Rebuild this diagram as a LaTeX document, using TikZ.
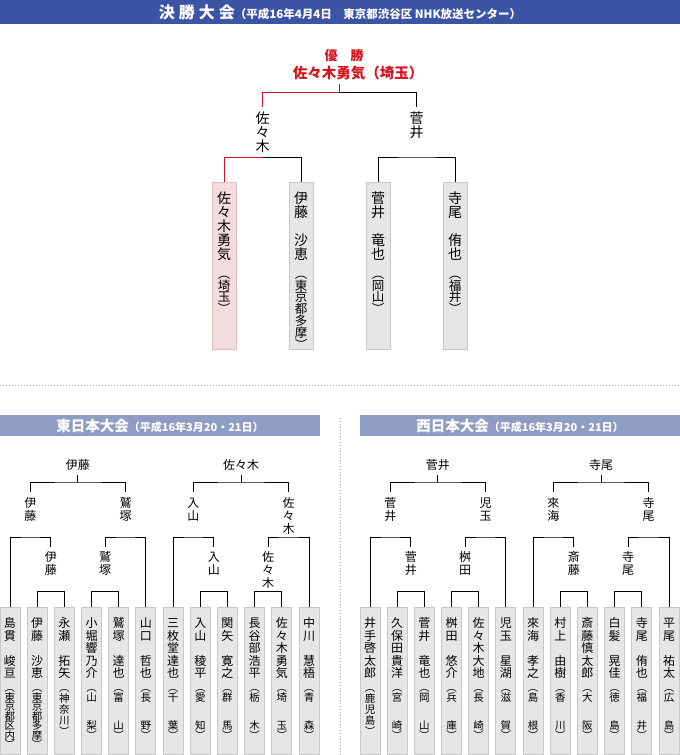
\documentclass[tikz,border=0pt]{standalone}
\usepackage{fontspec}
\setmainfont{Noto Sans CJK JP}
\usetikzlibrary{positioning,calc}

\definecolor{titleblue}{RGB}{59,84,163}
\definecolor{headblue}{RGB}{143,157,196}
\definecolor{boxfill}{RGB}{230,230,230}
\definecolor{boxline}{RGB}{200,200,200}
\definecolor{winfill}{RGB}{245,220,220}
\definecolor{winline}{RGB}{225,190,190}
\definecolor{winred}{RGB}{213,20,32}
\definecolor{dotgray}{RGB}{165,165,165}

% one glyph per line, top to bottom: [style]{name}{x}{first baseline}{pitch}{glyphs}
\newcommand{\vchars}[6][]{%
  \foreach \ch [count=\ci] in {#6}
    \node[glyph, #1] (#2-\ci) at (#3, {#4+(\ci-1)*#5}) {\ch};
}

% a player of the qualifying rounds: [pitch of prefecture]{name}{x}{player}{prefecture}
\newcommand{\qbox}[5][9.5]{%
  \node[qcard] (#2) at (#3, 680.5) {};
  \vchars[qname]{#2n}{#3}{627.6}{12.5}{#4}
  \vchars[qpref]{#2p}{#3}{691.5}{#1}{︵,#5,︶}
}

% one half of a qualifying block (six players)
\newcommand{\qhalf}[8]{%
  \pgfmathsetmacro\qxl{#3}
  \pgfmathsetmacro\qxA{\qxl+0.75*27.18}
  \pgfmathsetmacro\qxa{\qxl+1.5*27.18}
  \pgfmathsetmacro\qxb{\qxl+3.5*27.18}
  \pgfmathsetmacro\qxB{\qxl+4.25*27.18}
  \pgfmathsetmacro\qxc{\qxl+2.5*27.18}
  \pgfmathtruncatemacro\bii{#2+1}
  \pgfmathtruncatemacro\biii{#2+2}
  \pgfmathtruncatemacro\biv{#2+3}
  \pgfmathtruncatemacro\bv{#2+4}
  \pgfmathtruncatemacro\bvi{#2+5}
  % first round
  \draw[tie] (#1\bii.north) -- ++(0,-15) -| (#1\biii.north);
  \draw[tie] (#1\biv.north) -- ++(0,-15) -| (#1\bv.north);
  % second round
  \coordinate (#1#2ia) at (\qxa, 547);
  \coordinate (#1#2ib) at (\qxb, 547);
  \coordinate (#1#2sa) at (\qxA, 537);
  \coordinate (#1#2sb) at (\qxB, 537);
  \draw[tie] (#1#2.north) |- (#1#2sa) -| (#1#2ia);
  \draw[tie] (#1#2ib) |- (#1#2sb) -| (#1\bvi.north);
  % block final
  \coordinate (#1#2ta) at (\qxA, 492);
  \coordinate (#1#2tb) at (\qxB, 492);
  \coordinate (#1#2t) at (\qxc, 482);
  \draw[tie] (#1#2ta) |- (#1#2t) -| (#1#2tb);
  \draw[tie] (#1#2t) -- ++(0,-7);
  \node[glyph, qlab] (#1#2w) at (\qxc, 469.6) {#4};
  \vchars[qlab]{#1#2la}{\qxA}{507.6}{13}{#5}
  \vchars[qlab]{#1#2lia}{\qxa}{561.6}{13}{#6}
  \vchars[qlab]{#1#2lb}{\qxB}{507.6}{13}{#7}
  \vchars[qlab]{#1#2lib}{\qxb}{561.6}{13}{#8}
}

\begin{document}
\begin{tikzpicture}[
  x=1pt, y=-1pt,
  glyph/.style={inner sep=0pt, anchor=base},
  qname/.style={font=\fontsize{12}{12}\selectfont},
  qpref/.style={font=\fontsize{10.5}{10.5}\selectfont},
  qlab/.style={font=\fontsize{12}{12}\selectfont},
  fname/.style={font=\fontsize{14}{14}\selectfont},
  fpref/.style={font=\fontsize{12.5}{12.5}\selectfont},
  flab/.style={font=\fontsize{14}{14}\selectfont},
  qcard/.style={draw=boxline, fill=boxfill, line width=1pt, minimum width=20, minimum height=147, inner sep=0pt},
  fcard/.style={draw=boxline, fill=boxfill, line width=1pt, minimum width=24, minimum height=167, inner sep=0pt},
  tie/.style={draw=black, line width=1pt},
  redtie/.style={draw=winred, line width=1pt},
  headbar/.style={anchor=north west, inner sep=0pt, minimum height=21, minimum width=320, fill=headblue},
  headtext/.style={anchor=base, inner sep=0pt, text=white},
  sepline/.style={draw=dotgray, line width=1pt, dash pattern=on 1pt off 2pt}
]
\useasboundingbox (0,0) rectangle (680,755);

% ---------- final ----------
\node[anchor=north west, inner sep=0pt, minimum width=680, minimum height=24, fill=titleblue] (finalbar) at (0,0) {};
\node[headtext] (finaltitle) at (340, 18)
  {{\fontsize{16}{16}\selectfont\bfseries 決\hspace{4pt}勝\hspace{4pt}大\hspace{4pt}会}%
   {\fontsize{11.5}{12}\selectfont\bfseries （平成16年4月4日　東京都渋谷区 NHK放送センター）}};

\node[glyph, text=winred, font=\fontsize{13}{13}\selectfont\bfseries] (champtitle) at (344, 60) {優　勝};
\node[glyph, text=winred, font=\fontsize{14.5}{14.5}\selectfont\bfseries] (champname) at (358, 78.5) {佐々木勇気（埼玉）};

\node[fcard, fill=winfill, draw=winline] (f1) at (224, 265.5) {};
\node[fcard] (f2) at (301, 265.5) {};
\node[fcard] (f3) at (378, 265.5) {};
\node[fcard] (f4) at (455, 265.5) {};
\vchars[fname]{f1n}{224}{203.3}{14}{佐,々,木,勇,気}
\vchars[fpref]{f1p}{224}{278.3}{11.8}{︵,埼,玉,︶}
\vchars[fname]{f2n}{301}{203.3}{14}{伊,藤,　,沙,恵}
\vchars[fpref]{f2p}{301}{278.3}{11.8}{︵,東,京,都,多,摩,︶}
\vchars[fname]{f3n}{378}{203.3}{14}{菅,井,　,竜,也}
\vchars[fpref]{f3p}{378}{278.3}{11.8}{︵,岡,山,︶}
\vchars[fname]{f4n}{455}{203.3}{14}{寺,尾,　,侑,也}
\vchars[fpref]{f4p}{455}{278.3}{11.8}{︵,福,井,︶}

\coordinate (fsa) at (262.5, 157);
\coordinate (fsb) at (416.5, 157);
\coordinate (fta) at (262.5, 107);
\coordinate (ftb) at (416.5, 107);
\coordinate (ft) at (339.5, 92.7);
\draw[redtie] (f1.north) |- (fsa);
\draw[tie] (fsa) -| (f2.north);
\draw[tie] (f3.north) |- (fsb) -| (f4.north);
\draw[redtie] (fta) |- (ft);
\draw[tie] (ft) -| (ftb);
\draw[redtie] (ft) -- ++(0,-9);
\vchars[flab]{fla}{262.5}{123.3}{14}{佐,々,木}
\vchars[flab]{flb}{416.5}{123.3}{14}{菅,井}

% ---------- separators ----------
\draw[sepline] (0,385) -- (680,385);
\draw[sepline] (340,418) -- (340,755);

% ---------- east ----------
\node[headbar] (easthead) at (0,415) {};
\node[headtext] (easttitle) at (160, 431)
  {{\fontsize{14.5}{15}\selectfont\bfseries 東日本大会}{\fontsize{11}{12}\selectfont\bfseries （平成16年3月20・21日）}};

\qbox{e1}{10.0}{島,貫,　,峻,亘}{東,京,都,区,内}
\qbox{e2}{37.2}{伊,藤,　,沙,恵}{東,京,都,多,摩}
\qbox[11]{e3}{64.4}{永,瀬,　,拓,矢}{神,奈,川}
\qbox{e4}{91.5}{小,堀,響,乃,介}{山,　,　,梨}
\qbox{e5}{118.7}{鷲,塚,　,達,也}{富,　,　,山}
\qbox{e6}{145.9}{山,口,　,哲,也}{長,　,　,野}
\qbox{e7}{173.1}{三,枚,堂,達,也}{千,　,　,葉}
\qbox{e8}{200.3}{入,山,　,稜,平}{愛,　,　,知}
\qbox{e9}{227.4}{関,矢,　,寛,之}{群,　,　,馬}
\qbox{e10}{254.6}{長,谷,部,浩,平}{栃,　,　,木}
\qbox{e11}{281.8}{佐,々,木,勇,気}{埼,　,　,玉}
\qbox{e12}{309.0}{中,川,　,慧,梧}{青,　,　,森}

\qhalf{e}{1}{10.0}{伊藤}{伊,藤}{伊,藤}{鷲,塚}{鷲,塚}
\qhalf{e}{7}{173.1}{佐々木}{入,山}{入,山}{佐,々,木}{佐,々,木}

% ---------- west ----------
\node[headbar] (westhead) at (360,415) {};
\node[headtext] (westtitle) at (520, 431)
  {{\fontsize{14.5}{15}\selectfont\bfseries 西日本大会}{\fontsize{11}{12}\selectfont\bfseries （平成16年3月20・21日）}};

\qbox[11]{w1}{370.0}{井,手,啓,太,郎}{鹿,児,島}
\qbox{w2}{397.2}{久,保,田,貴,洋}{宮,　,　,崎}
\qbox{w3}{424.4}{菅,井,　,竜,也}{岡,　,　,山}
\qbox{w4}{451.5}{桝,田,　,悠,介}{兵,　,　,庫}
\qbox{w5}{478.7}{佐,々,木,大,地}{長,　,　,崎}
\qbox{w6}{505.9}{児,玉,　,星,湖}{滋,　,　,賀}
\qbox{w7}{533.1}{來,海,　,孝,之}{島,　,　,根}
\qbox{w8}{560.3}{村,上,　,由,樹}{香,　,　,川}
\qbox{w9}{587.4}{斎,藤,慎,太,郎}{大,　,　,阪}
\qbox{w10}{614.6}{白,髪,　,晃,佳}{徳,　,　,島}
\qbox{w11}{641.8}{寺,尾,　,侑,也}{福,　,　,井}
\qbox{w12}{669.0}{平,尾,　,祐,太}{広,　,　,島}

\qhalf{w}{1}{370.0}{菅井}{菅,井}{菅,井}{児,玉}{桝,田}
\qhalf{w}{7}{533.1}{寺尾}{來,海}{斎,藤}{寺,尾}{寺,尾}

\end{tikzpicture}
\end{document}
